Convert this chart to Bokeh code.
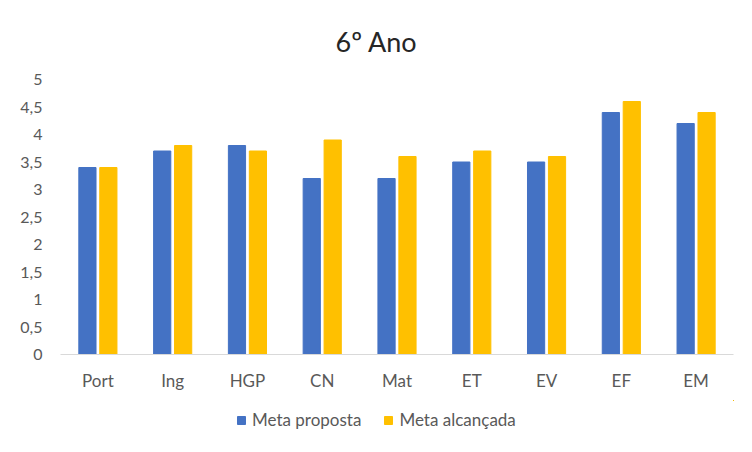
from bokeh.plotting import figure
from bokeh.layouts import column
from bokeh.models import ColumnDataSource, Range1d, FixedTicker, Legend, LegendItem
from bokeh.embed import file_html
from bokeh.resources import INLINE

categories = ["Port", "Ing", "HGP", "CN", "Mat", "ET", "EV", "EF", "EM"]
meta_proposta = [3.4, 3.7, 3.8, 3.2, 3.2, 3.5, 3.5, 4.4, 4.2]
meta_alcancada = [3.4, 3.8, 3.7, 3.9, 3.6, 3.7, 3.6, 4.6, 4.4]
series_names = ["Meta proposta", "Meta alcançada"]
y_ticks = [0, 0.5, 1, 1.5, 2, 2.5, 3, 3.5, 4, 4.5, 5]
y_labels = ["0", "0,5", "1", "1,5", "2", "2,5", "3", "3,5", "4", "4,5", "5"]

FONT = "Lato"
GREY = "#595959"
BLUE = "#4472C4"
ORANGE = "#FFC000"

idx = list(range(len(categories)))
src = ColumnDataSource(dict(
    xb=[i - 0.14 for i in idx],
    xo=[i + 0.14 for i in idx],
    mp=meta_proposta,
    ma=meta_alcancada,
))

p = figure(width=752, height=400, output_backend="svg", toolbar_location=None,
           x_range=Range1d(-0.5, len(categories) - 0.5), y_range=Range1d(0, 5),
           min_border_left=60, min_border_right=19, min_border_top=78, min_border_bottom=46)
p.title.text = "6º Ano"
p.title.align = "left"
p.title.offset = 275
p.title.text_font = FONT
p.title.text_font_size = "27px"
p.title.text_font_style = "normal"
p.title.text_color = "#262626"
p.title.standoff = 44

p.vbar(x="xb", top="mp", width=0.23, bottom=0, source=src, color=BLUE)
p.vbar(x="xo", top="ma", width=0.23, bottom=0, source=src, color=ORANGE)

p.xgrid.visible = False
p.ygrid.visible = False
p.outline_line_color = None

p.yaxis.ticker = FixedTicker(ticks=y_ticks)
p.yaxis.major_label_overrides = {t: l for t, l in zip(y_ticks, y_labels)}
p.yaxis.axis_line_color = None
p.yaxis.major_tick_line_color = None
p.yaxis.minor_tick_line_color = None
p.yaxis.major_label_standoff = 12
p.yaxis.major_label_text_font = FONT
p.yaxis.major_label_text_font_size = "16px"
p.yaxis.major_label_text_color = GREY

p.xaxis.ticker = FixedTicker(ticks=idx)
p.xaxis.major_label_overrides = {i: c for i, c in zip(idx, categories)}
p.xaxis.axis_line_color = "#D9D9D9"
p.xaxis.major_tick_line_color = None
p.xaxis.minor_tick_line_color = None
p.xaxis.major_label_standoff = 9
p.xaxis.major_label_text_font = FONT
p.xaxis.major_label_text_font_size = "17px"
p.xaxis.major_label_text_color = GREY

# legend strip below the chart (its bars fall outside its visible range)
lg = figure(width=752, height=52, output_backend="svg", toolbar_location=None,
            x_range=Range1d(-10, -9), y_range=Range1d(-10, -9),
            x_axis_location=None, y_axis_location=None,
            min_border_left=0, min_border_right=0, min_border_top=0, min_border_bottom=0)
lg.xgrid.visible = False
lg.ygrid.visible = False
lg.outline_line_color = None
lb = lg.vbar(x="xb", top="mp", width=0.23, source=src, color=BLUE)
lo = lg.vbar(x="xo", top="ma", width=0.23, source=src, color=ORANGE)
legend = Legend(items=[LegendItem(label=series_names[0], renderers=[lb]),
                       LegendItem(label=series_names[1], renderers=[lo])],
                orientation="horizontal", location=(176, 22),
                glyph_width=10, glyph_height=10, label_text_font=FONT,
                label_text_font_size="17px", label_text_color=GREY,
                border_line_color=None, background_fill_alpha=0,
                padding=0, spacing=22, label_standoff=6, margin=0)
lg.add_layout(legend, "center")

layout = column(p, lg, spacing=0)
open("out.html", "w").write(file_html(layout, INLINE))
